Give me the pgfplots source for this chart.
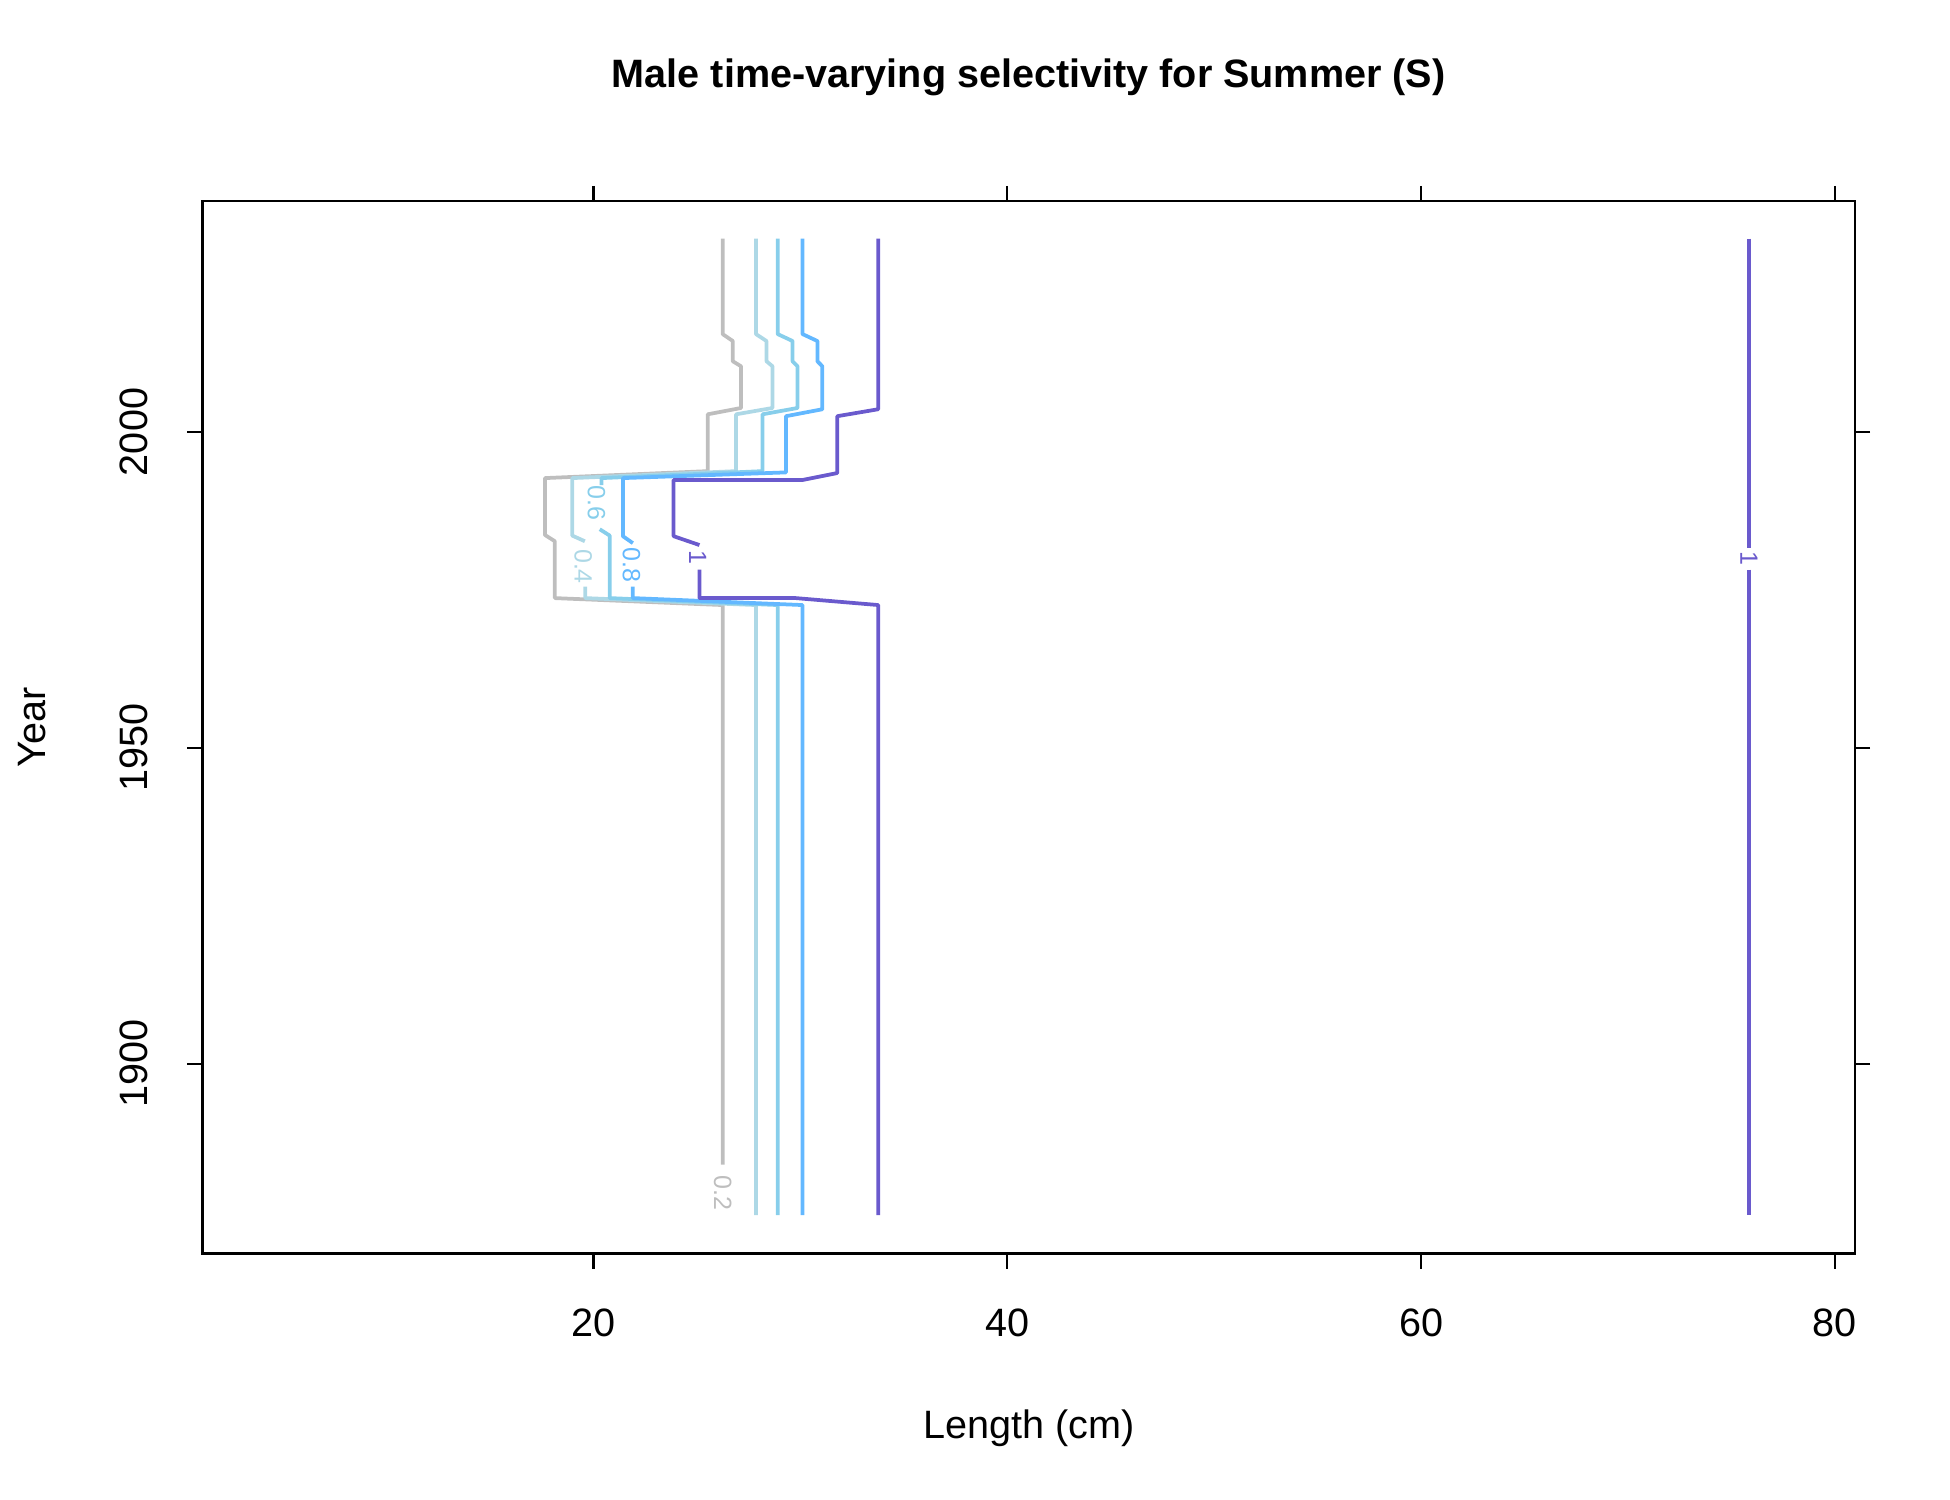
\documentclass[border=0pt]{standalone}
\usepackage{pgfplots}
\pgfplotsset{compat=1.18}
\usetikzlibrary{calc}
\usepackage{fontspec}
\setmainfont{Liberation Sans}
\definecolor{c2}{HTML}{BEBEBE}
\definecolor{c4}{HTML}{ADD8E6}
\definecolor{c6}{HTML}{87CEEB}
\definecolor{c8}{HTML}{63B8FF}
\definecolor{c10}{HTML}{6A5ACD}
\begin{document}
\begin{tikzpicture}
\begin{axis}[name=ax, scale only axis, width=396.6pt, height=252.7pt,
  xmin=1.1, xmax=80.97, ymin=1869.9, ymax=2036.6,
  xtick={20,40,60,80}, ytick={1900,1950,2000},
  tick align=outside, tick style={black, line width=0.5pt, major tick length=3.6pt},
  axis line style={line width=0.6pt},
  /pgf/number format/assume math mode=true,
  /pgf/number format/1000 sep={},
  ticklabel style={font=\fontsize{9.5}{11}\selectfont},
  xticklabel style={yshift=-6pt},
  yticklabel style={rotate=90, anchor=south, yshift=6pt},
  xlabel={Length (cm)}, ylabel={Year},
  label style={font=\fontsize{9.5}{11}\selectfont},
  xlabel style={at={(0.5,0)}, anchor=center, yshift=-42pt},
  ylabel style={at={(0,0.5)}, anchor=center, yshift=41pt},
  title={\bfseries Male time-varying selectivity for Summer (S)},
  title style={font=\fontsize{9.5}{11}\selectfont, at={(0.5,1)}, anchor=center, yshift=23.6pt},
  every axis plot/.append style={line width=0.9pt, mark=none, line join=round}]
% 0.2
\addplot[c2] coordinates {(26.24,2030.6)(26.24,2015.5)(26.73,2014.4)(26.73,2011.2)(27.13,2010.4)(27.13,2003.8)(25.52,2002.8)(25.52,1993.8)(17.65,1992.7)(17.65,1983.7)(18.13,1982.7)(18.13,1973.7)(26.24,1972.6)(26.24,1884)};
% 0.4
\addplot[c4] coordinates {(27.85,2030.6)(27.85,2015.5)(28.36,2014.4)(28.36,2011.2)(28.65,2010.4)(28.65,2003.8)(26.89,2002.8)(26.89,1993.8)(18.97,1992.7)(18.97,1983.6)(19.58,1982.7)};
\addplot[c4] coordinates {(19.6,1975.5)(19.6,1973.7)(27.85,1972.6)(27.85,1876)};
% 0.6
\addplot[c6] coordinates {(28.9,2030.6)(28.9,2015.5)(29.62,2014.4)(29.62,2011.2)(29.86,2010.4)(29.86,2003.8)(28.17,2002.8)(28.17,1993.8)(20.38,1992.7)(20.38,1991.6)};
\addplot[c6] coordinates {(20.3,1984.6)(20.78,1983.6)(20.78,1973.7)(28.9,1972.6)(28.9,1876)};
% 0.8
\addplot[c8] coordinates {(30.1,2030.6)(30.1,2015.5)(30.82,2014.4)(30.82,2011.2)(31.06,2010.4)(31.06,2003.6)(29.3,2002.5)(29.3,1993.6)(21.42,1992.7)(21.42,1983.5)(21.9,1982.4)};
\addplot[c8] coordinates {(21.9,1975.5)(21.9,1973.7)(30.1,1972.6)(30.1,1876)};
% 1
\addplot[c10] coordinates {(33.76,2030.6)(33.76,2003.6)(31.78,2002.5)(31.78,1993.5)(30.1,1992.4)(23.87,1992.4)(23.87,1983.5)(25.12,1982.1)};
\addplot[c10] coordinates {(25.12,1978.2)(25.12,1973.7)(29.78,1973.7)(33.76,1972.6)(33.76,1876)};
\addplot[c10] coordinates {(75.84,2030.6)(75.84,1981.6)};
\addplot[c10] coordinates {(75.84,1978.2)(75.84,1876)};
\tikzset{cl/.style={font=\fontsize{6}{7}\selectfont, rotate=-90, inner sep=0pt}}
\node[cl, text=c2] at (axis cs:26.24,1879.5) {0.2};
\node[cl, text=c4] at (axis cs:19.5,1978.7) {0.4};
\node[cl, text=c6] at (axis cs:20.14,1988.8) {0.6};
\node[cl, text=c8] at (axis cs:21.83,1978.9) {0.8};
\node[cl, text=c10] at (axis cs:25.04,1980.1) {1};
\node[cl, text=c10] at (axis cs:75.84,1979.9) {1};
\end{axis}
\pgfresetboundingbox
\path[use as bounding box] ($(ax.south west)+(-48.6pt,-59pt)$) rectangle ($(ax.north east)+(22.8pt,48.2pt)$);
\end{tikzpicture}
\end{document}
